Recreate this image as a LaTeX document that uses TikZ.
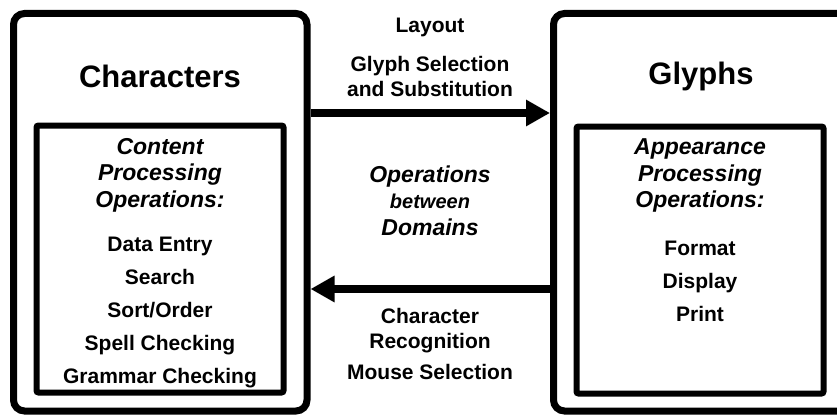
\documentclass[tikz,border=0pt]{standalone}
\usepackage{fontspec}
\setmainfont{Liberation Sans}
\usetikzlibrary{arrows.meta,positioning}

\begin{document}
\begin{tikzpicture}[x=1pt,y=-1pt,
  domainbox/.style={draw,line width=7pt,rounded corners=11pt,inner sep=0pt},
  opsbox/.style={draw,line width=6pt,rounded corners=2pt,inner sep=0pt,
                 minimum width=247pt,minimum height=267pt},
  title/.style={font=\fontsize{31}{37}\selectfont\bfseries},
  ophead/.style={align=center,font=\fontsize{23}{26.5}\selectfont\bfseries\itshape},
  oplist/.style={align=center,font=\fontsize{21}{33}\selectfont\bfseries},
  midtext/.style={align=center,font=\fontsize{21}{25}\selectfont\bfseries},
  bigarrow/.style={line width=8pt,-{Triangle[length=24pt,width=25pt]}}]
\clip (0,0) rectangle (837,417);

\node[domainbox,minimum width=293.5pt,minimum height=397.5pt] (chars)  at (160.25,212.25) {};
\node[domainbox,minimum width=296.5pt,minimum height=397.5pt] (glyphs) at (701.75,212.25) {};

\node[opsbox] (charops)  at (160,259) {};
\node[opsbox] (glyphops) at (700,260) {};

\node[title] (charstitle)  at (160,76) {Characters};
\node[title] (glyphstitle) at (701,76) {Glyphs};

\node[ophead] (charhead)  at (160,175)   {Content\\Processing\\Operations:};
\node[oplist] (charlist)  at (160,312)   {Data Entry\\Search\\Sort/Order\\Spell Checking\\Grammar Checking};
\node[ophead] (glyphhead) at (700,175.5) {Appearance\\Processing\\Operations:};
\node[oplist] (glyphlist) at (700,281.5) {Format\\Display\\Print};

\node[midtext] (forward)  at (430,57)    {Layout\\[14pt]Glyph Selection\\and Substitution};
\node[ophead]  (domains)  at (430,200.5) {Operations\\{\fontsize{20}{26.5}\selectfont between}\\Domains};
\node[midtext] (backward) at (430,344)   {Character\\Recognition\\[6pt]Mouse Selection};

\coordinate (toprow) at (430,113);
\coordinate (botrow) at (430,289);
\draw[bigarrow] (chars.east |- toprow)  -- (glyphs.west |- toprow);
\draw[bigarrow] (glyphs.west |- botrow) -- (chars.east |- botrow);
\end{tikzpicture}
\end{document}
